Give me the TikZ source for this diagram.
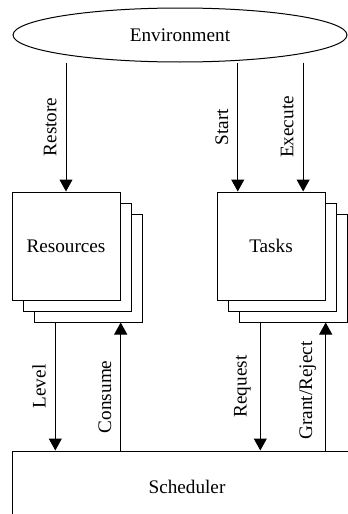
\documentclass[tikz,border=0pt]{standalone}
\usepackage{fontspec}
\setmainfont{Liberation Serif}
\newfontfamily\figfont{Liberation Serif}
\usetikzlibrary{shapes.geometric,arrows.meta,calc}
\tikzset{
  card/.style={draw,fill=white,minimum width=54pt,minimum height=54pt,inner sep=0pt},
  flow/.style={-{Triangle[width=6.5pt,length=6pt]}},
  lbl/.style={rotate=90,anchor=south,inner sep=4.5pt}
}
\newcommand{\stackbox}[3]{%
  \node[card] at ($(#1)+(22,-22)$) (#2-back) {};
  \node[card] at ($(#1)+(11,-11)$) (#2-mid) {};
  \node[card] at (#1) (#2) {#3}}

\begin{document}
\begin{tikzpicture}[x=0.5pt,y=0.5pt,line width=0.5pt,font=\figfont\fontsize{9.6pt}{11.5pt}\selectfont]
  \clip (0,0) rectangle (348,-514);
  \node[ellipse,draw,minimum width=167pt,minimum height=27pt] at (180,-35) (env) {Environment};
  \stackbox{66,-246}{res}{Resources};
  \stackbox{271,-246}{tasks}{Tasks};
  \node[draw,minimum width=175pt,minimum height=36pt] at (187,-487) (sched) {Scheduler};
  % environment -> boxes
  \coordinate (start) at ($(tasks.north)!0.61!(tasks.north west)$);
  \coordinate (exec)  at ($(tasks.north)!0.59!(tasks.north east)$);
  \draw[flow] (env.south -| res.north) -- node[lbl] {Restore} (res.north);
  \draw[flow] (env.south -| start) -- node[lbl] {Start} (start);
  \draw[flow] (env.south -| exec) -- node[lbl] {Execute} (exec);
  % boxes <-> scheduler
  \coordinate (level)   at ($(res-back.south)!0.6!(res-back.south west)$);
  \coordinate (consume) at ($(res-back.south)!0.6!(res-back.south east)$);
  \coordinate (request) at ($(tasks-back.south)!0.6!(tasks-back.south west)$);
  \coordinate (grant)   at ($(tasks-back.south)!0.6!(tasks-back.south east)$);
  \draw[flow] (level) -- node[lbl] {Level} (level |- sched.north);
  \draw[flow] (consume |- sched.north) -- node[lbl,pos=0.42] {Consume} (consume);
  \draw[flow] (request) -- node[lbl] {Request} (request |- sched.north);
  \draw[flow] (grant |- sched.north) -- node[lbl,pos=0.47] {Grant/Reject} (grant);
\end{tikzpicture}
\end{document}
